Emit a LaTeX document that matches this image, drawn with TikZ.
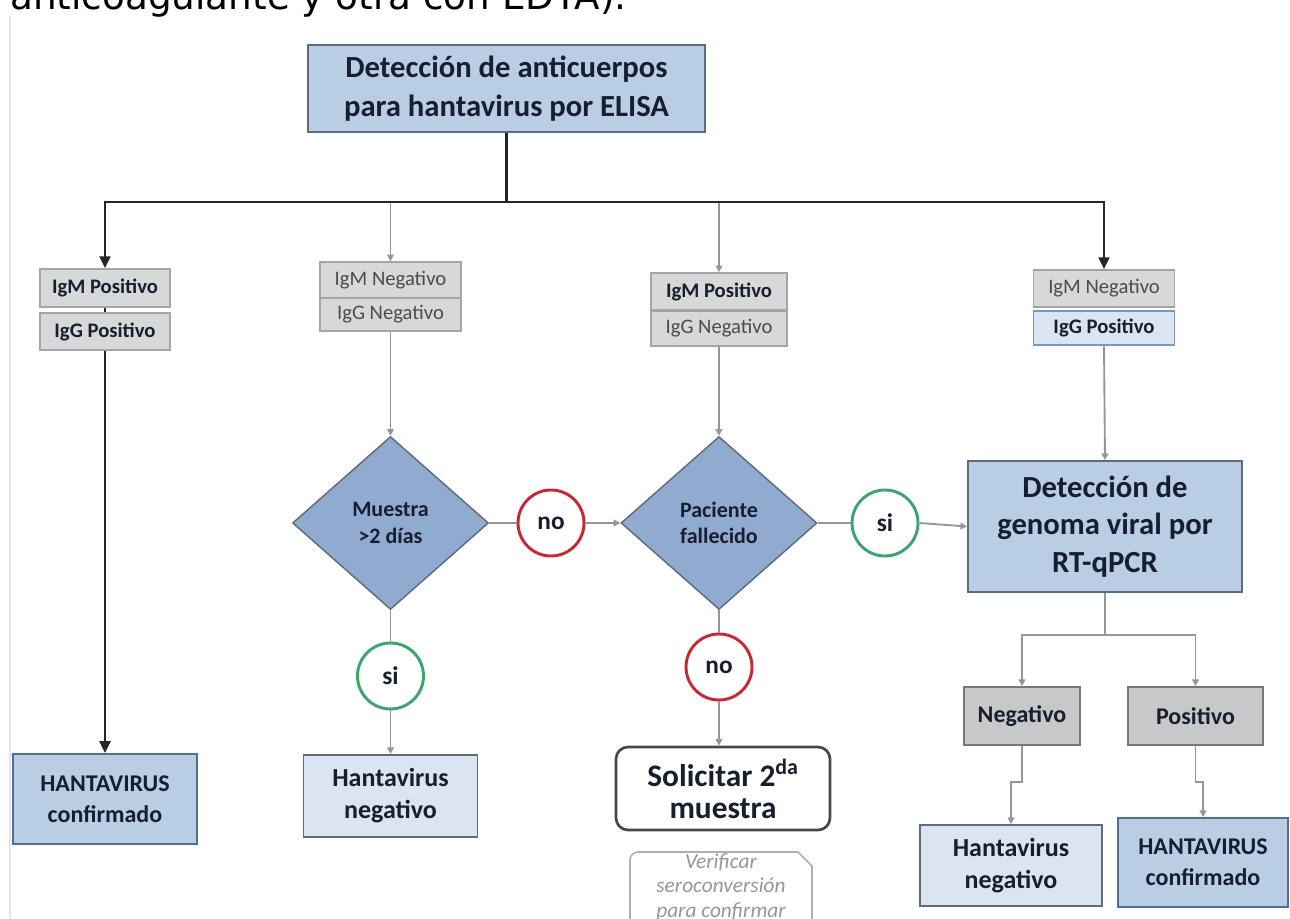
\documentclass[tikz,border=0pt]{standalone}
\usepackage{fontspec}
\setmainfont{Carlito}
\newfontfamily\dejavu{DejaVu Sans}
\usetikzlibrary{shapes.geometric,arrows.meta}
\definecolor{txt}{RGB}{22,30,48}
\definecolor{lblue}{RGB}{185,205,229}
\definecolor{pblue}{RGB}{219,229,241}
\definecolor{mblue}{RGB}{145,170,208}
\definecolor{bdr}{RGB}{95,108,128}
\definecolor{gfill}{RGB}{216,216,216}
\definecolor{gbdr}{RGB}{165,165,165}
\definecolor{dgfill}{RGB}{200,200,200}
\definecolor{lgray}{RGB}{150,150,150}
\definecolor{cred}{RGB}{200,40,52}
\definecolor{cgreen}{RGB}{60,165,110}
\definecolor{vgray}{RGB}{175,175,175}
\begin{document}
\begin{tikzpicture}[x=0.75pt,y=-0.75pt,
  sz/.style 2 args={minimum width=#1*0.75pt, minimum height=#2*0.75pt},
  box/.style={rectangle, draw=bdr, line width=1.3pt, inner sep=0pt, align=center, text=txt, font=\bfseries},
  big/.style={box, fill=lblue, font=\fontsize{23}{29}\selectfont\bfseries},
  small/.style={rectangle, draw=gbdr, fill=gfill, line width=1.1pt, inner sep=0pt, align=center, text=txt, font=\fontsize{15.5}{17}\selectfont\bfseries},
  smalln/.style={small, font=\fontsize{15.5}{17}\selectfont, text=black!70},
  dia/.style={diamond, draw=bdr, fill=mblue, line width=1.1pt, inner sep=0pt, align=center, text=txt, font=\fontsize{16.5}{20}\selectfont\bfseries},
  circ/.style={circle, fill=white, line width=2.2pt, inner sep=0pt, minimum size=66*0.75pt, text=txt, font=\fontsize{19}{20}\selectfont\bfseries},
  blk/.style={draw=black!85, line width=2.2pt},
  gry/.style={draw=lgray, line width=1.4pt},
  blkarrow/.style={blk, -{Triangle[length=9pt,width=8pt]}},
  gryarrow/.style={gry, -{Triangle[length=5pt,width=5pt]}}
]
\useasboundingbox (0,0) rectangle (1290,919);
\clip (0,0) rectangle (1290,919);

% partial text line at the top
\node[anchor=base west, inner sep=0pt, font=\dejavu\fontsize{28}{30}\selectfont] (cap) at (10,10) {anticoagulante y otra con EDTA).};
\draw[draw={rgb,255:red,228;green,228;blue,238}, line width=1.2pt] (10,16) -- (10,919);

% nodes
\node[big, sz={397}{87}] (top) at (506.5,88.5) {Detección de anticuerpos\\para hantavirus por ELISA};

\node[small, sz={130}{38}] (igmL) at (105,288) {IgM Positivo};
\node[small, sz={130}{37}] (iggL) at (105,331.5) {IgG Positivo};

\node[smalln, sz={141}{36}] (igmN) at (390.5,280) {IgM Negativo};
\node[smalln, sz={141}{33}] (iggN) at (390.5,314.5) {IgG Negativo};

\node[small, sz={136}{37}] (igmP) at (719,291.5) {IgM Positivo};
\node[smalln, sz={136}{35}] (iggP) at (719,328.5) {IgG Negativo};

\node[smalln, sz={141}{37}] (igmR) at (1104,288.5) {IgM Negativo};
\node[small, draw={rgb,255:red,120;green,150;blue,190}, fill=pblue, sz={141}{34}] (iggR) at (1104,328) {IgG Positivo};

\node[dia, sz={196}{173}] (d1) at (390.5,523) {Muestra\\{>}2 días};
\node[dia, sz={196}{173}] (d2) at (719,523) {Paciente\\fallecido};

\node[circ, draw=cred] (no1) at (551,523) {no};
\node[circ, draw=cgreen] (si2) at (885,523) {si};
\node[circ, draw=cgreen] (si1) at (390.5,676) {si};
\node[circ, draw=cred] (no2) at (719,667) {no};

\node[big, sz={274}{131}, font=\fontsize{23}{28}\selectfont\bfseries] (rt) at (1105,526.5) {Detección de\\genoma viral por\\RT-qPCR};

\node[box, fill=dgfill, draw={rgb,255:red,120;green,120;blue,120}, sz={116}{58}, font=\fontsize{18}{20}\selectfont\bfseries] (neg) at (1022,716) {Negativo};
\node[box, fill=dgfill, draw={rgb,255:red,120;green,120;blue,120}, sz={135}{58}, font=\fontsize{18}{20}\selectfont\bfseries] (pos) at (1195.5,716) {Positivo};

\node[box, fill=pblue, sz={182}{81}, font=\fontsize{19.5}{24}\selectfont\bfseries] (hnegR) at (1011,865.5) {Hantavirus\\negativo};
\node[box, fill=lblue, draw={rgb,255:red,80;green,110;blue,150}, sz={170}{89}, font=\fontsize{18}{23}\selectfont\bfseries] (confR) at (1203,862.5) {HANTAVIRUS\\confirmado};

\node[box, fill=lblue, draw={rgb,255:red,80;green,110;blue,150}, sz={184}{90}, font=\fontsize{18}{23}\selectfont\bfseries] (confL) at (105,799) {HANTAVIRUS\\confirmado};
\node[box, fill=pblue, sz={174}{82}, font=\fontsize{19.5}{24}\selectfont\bfseries] (hnegL) at (390.5,796) {Hantavirus\\negativo};

\node[box, fill=white, draw={rgb,255:red,70;green,70;blue,75}, line width=2pt, rounded corners=9pt, sz={214}{83}, font=\fontsize{23.5}{24}\selectfont\bfseries] (sol) at (723,788.5) {Solicitar 2\textsuperscript{da}\\muestra};

\draw[draw=vgray, line width=1.2pt] (812,930) -- (812,866) -- (798,852) -- (638,852) to[out=180,in=90] (630,860) -- (630,930);
\node[inner sep=0pt, align=center, text={rgb,255:red,150;green,150;blue,150}, font=\fontsize{16}{18.5}\selectfont\itshape, anchor=north] (verif) at (721,853) {Verificar\\seroconversión\\para confirmar};

% connectors
\coordinate (j) at (506.5,202);
\draw[gryarrow] (j) -| (igmN.north);
\draw[gryarrow] (j) -| (igmP.north);
\draw[blk] (top.south) -- (j);
\draw[blkarrow] (j) -| (igmL.north);
\draw[blkarrow] (j) -| (igmR.north);

\draw[blk, line width=1pt] (igmL.south) -- (iggL.north);
\draw[blkarrow] (iggL.south) -- (confL.north);

\draw[gryarrow] (iggN.south) -- (d1.north);
\draw[gry] (d1.east) -- (no1.west);
\draw[gryarrow] (no1.east) -- (d2.west);
\draw[gryarrow] (iggP.south) -- (d2.north);
\draw[gry] (d2.east) -- (si2.west);
\draw[gryarrow] (si2.east) -- (rt.west);
\draw[gryarrow] (iggR.south) -- (rt.north);

\draw[gry] (d1.south) -- (si1.north);
\draw[gryarrow] (si1.south) -- (hnegL.north);
\draw[gry] (d2.south) -- (no2.north);
\draw[gryarrow] (no2.south) -- (no2.south |- sol.north);

\coordinate (k) at (1105,635);
\draw[gry] (rt.south) -- (k);
\draw[gryarrow] (k) -| (neg.north);
\draw[gryarrow] (k) -| (pos.north);

\coordinate (e1) at (1022,782);
\coordinate (e2) at (1195.5,782);
\draw[gryarrow] (neg.south) -- (e1) -| (hnegR.north);
\draw[gryarrow] (pos.south) -- (e2) -| (confR.north);
\end{tikzpicture}
\end{document}
